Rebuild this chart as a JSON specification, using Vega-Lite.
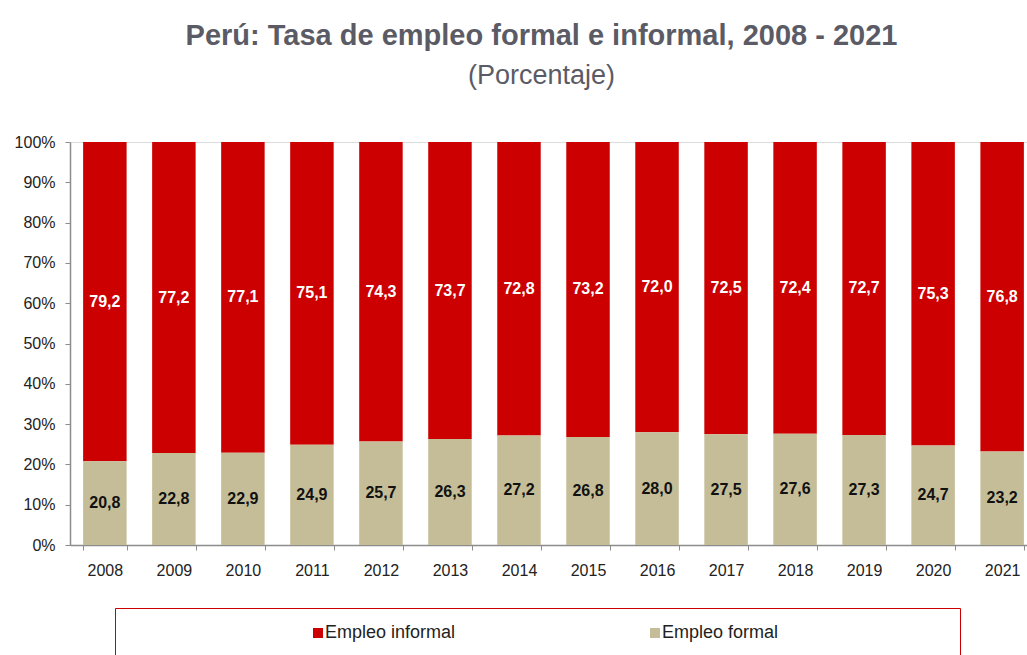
{
  "$schema": "https://vega.github.io/schema/vega-lite/v6.json",
  "autosize": {"type": "none"},
  "padding": {"left": 70, "top": 142, "right": 0, "bottom": 110},
  "width": 967,
  "height": 403,
  "background": "white",
  "title": {
    "text": "Perú: Tasa de empleo formal e informal,  2008 - 2021",
    "subtitle": "(Porcentaje)",
    "anchor": "middle",
    "dx": -12,
    "offset": 45,
    "font": "Liberation Sans, sans-serif",
    "fontSize": 29,
    "fontWeight": "bold",
    "color": "#5b5b66",
    "subtitleFont": "Liberation Sans, sans-serif",
    "subtitleFontSize": 27,
    "subtitleColor": "#5b5b66",
    "subtitlePadding": 12
  },
  "data": {
    "values": [
      {"year": "2008", "type": "Empleo informal", "value": 79.2, "ord": 2},
      {"year": "2009", "type": "Empleo informal", "value": 77.2, "ord": 2},
      {"year": "2010", "type": "Empleo informal", "value": 77.1, "ord": 2},
      {"year": "2011", "type": "Empleo informal", "value": 75.1, "ord": 2},
      {"year": "2012", "type": "Empleo informal", "value": 74.3, "ord": 2},
      {"year": "2013", "type": "Empleo informal", "value": 73.7, "ord": 2},
      {"year": "2014", "type": "Empleo informal", "value": 72.8, "ord": 2},
      {"year": "2015", "type": "Empleo informal", "value": 73.2, "ord": 2},
      {"year": "2016", "type": "Empleo informal", "value": 72.0, "ord": 2},
      {"year": "2017", "type": "Empleo informal", "value": 72.5, "ord": 2},
      {"year": "2018", "type": "Empleo informal", "value": 72.4, "ord": 2},
      {"year": "2019", "type": "Empleo informal", "value": 72.7, "ord": 2},
      {"year": "2020", "type": "Empleo informal", "value": 75.3, "ord": 2},
      {"year": "2021", "type": "Empleo informal", "value": 76.8, "ord": 2},
      {"year": "2008", "type": "Empleo formal", "value": 20.8, "ord": 1},
      {"year": "2009", "type": "Empleo formal", "value": 22.8, "ord": 1},
      {"year": "2010", "type": "Empleo formal", "value": 22.9, "ord": 1},
      {"year": "2011", "type": "Empleo formal", "value": 24.9, "ord": 1},
      {"year": "2012", "type": "Empleo formal", "value": 25.7, "ord": 1},
      {"year": "2013", "type": "Empleo formal", "value": 26.3, "ord": 1},
      {"year": "2014", "type": "Empleo formal", "value": 27.2, "ord": 1},
      {"year": "2015", "type": "Empleo formal", "value": 26.8, "ord": 1},
      {"year": "2016", "type": "Empleo formal", "value": 28.0, "ord": 1},
      {"year": "2017", "type": "Empleo formal", "value": 27.5, "ord": 1},
      {"year": "2018", "type": "Empleo formal", "value": 27.6, "ord": 1},
      {"year": "2019", "type": "Empleo formal", "value": 27.3, "ord": 1},
      {"year": "2020", "type": "Empleo formal", "value": 24.7, "ord": 1},
      {"year": "2021", "type": "Empleo formal", "value": 23.2, "ord": 1}
    ]
  },
  "transform": [
    {"stack": "value", "groupby": ["year"], "sort": [{"field": "ord", "order": "ascending"}], "as": ["y0", "y1"]},
    {"calculate": "(datum.y0 + datum.y1) / 2", "as": "mid"},
    {"calculate": "replace(format(datum.value, '.1f'), '.', ',')", "as": "lbl"}
  ],
  "encoding": {
    "x": {
      "field": "year",
      "type": "ordinal",
      "title": null,
      "scale": {"paddingInner": 0.37, "paddingOuter": 0.19},
      "axis": {
        "labelAngle": 0,
        "tickBand": "extent",
        "tickSize": 5,
        "tickColor": "#8c8c8c",
        "domainColor": "#8c8c8c",
        "domainWidth": 1.5,
        "labelFont": "Liberation Sans, sans-serif",
        "labelFontSize": 16,
        "labelColor": "#222222",
        "labelPadding": 12
      }
    }
  },
  "layer": [
    {
      "mark": {"type": "bar"},
      "encoding": {
        "y": {
          "field": "y0",
          "type": "quantitative",
          "title": null,
          "scale": {"domain": [0, 100], "nice": false},
          "axis": {
            "values": [0, 10, 20, 30, 40, 50, 60, 70, 80, 90, 100],
            "labelExpr": "datum.value + '%'",
            "grid": false,
            "tickSize": 5,
            "tickColor": "#8c8c8c",
            "domainColor": "#8c8c8c",
            "domainWidth": 1.5,
            "labelFont": "Liberation Sans, sans-serif",
            "labelFontSize": 16,
            "labelColor": "#222222",
            "labelPadding": 10
          }
        },
        "y2": {"field": "y1"},
        "color": {
          "field": "type",
          "type": "nominal",
          "scale": {"domain": ["Empleo informal", "Empleo formal"], "range": ["#cc0000", "#c4bd97"]},
          "legend": {
            "orient": "none",
            "direction": "horizontal",
            "legendX": 45,
            "legendY": 466,
            "title": "\u200b",
            "titleOrient": "left",
            "titlePadding": 178,
            "titleFontSize": 16,
            "labelExpr": "datum.label == 'Empleo formal' ? datum.label + '\u00a0\u00a0\u00a0\u00a0\u00a0\u00a0\u00a0\u00a0\u00a0\u00a0\u00a0\u00a0\u00a0\u00a0\u00a0\u00a0\u00a0\u00a0\u00a0\u00a0\u00a0\u00a0\u00a0\u00a0\u00a0\u00a0\u00a0\u00a0\u00a0\u00a0\u00a0\u00a0\u00a0\u200b' : datum.label",
            "symbolType": "square",
            "symbolSize": 100,
            "symbolStrokeWidth": 0,
            "labelFont": "Liberation Sans, sans-serif",
            "labelFontSize": 18,
            "labelColor": "#222222",
            "labelOffset": -2,
            "labelLimit": 0,
            "columnPadding": 190,
            "padding": 16,
            "strokeColor": "#cc0000",
            "fillColor": "white"
          }
        }
      }
    },
    {
      "mark": {"type": "text", "fontWeight": "bold", "fontSize": 16, "font": "Liberation Sans, sans-serif", "baseline": "middle"},
      "encoding": {
        "y": {"field": "mid", "type": "quantitative"},
        "text": {"field": "lbl"},
        "color": {"condition": {"test": "datum.type == 'Empleo informal'", "value": "white"}, "value": "#111111"}
      }
    }
  ]
}
